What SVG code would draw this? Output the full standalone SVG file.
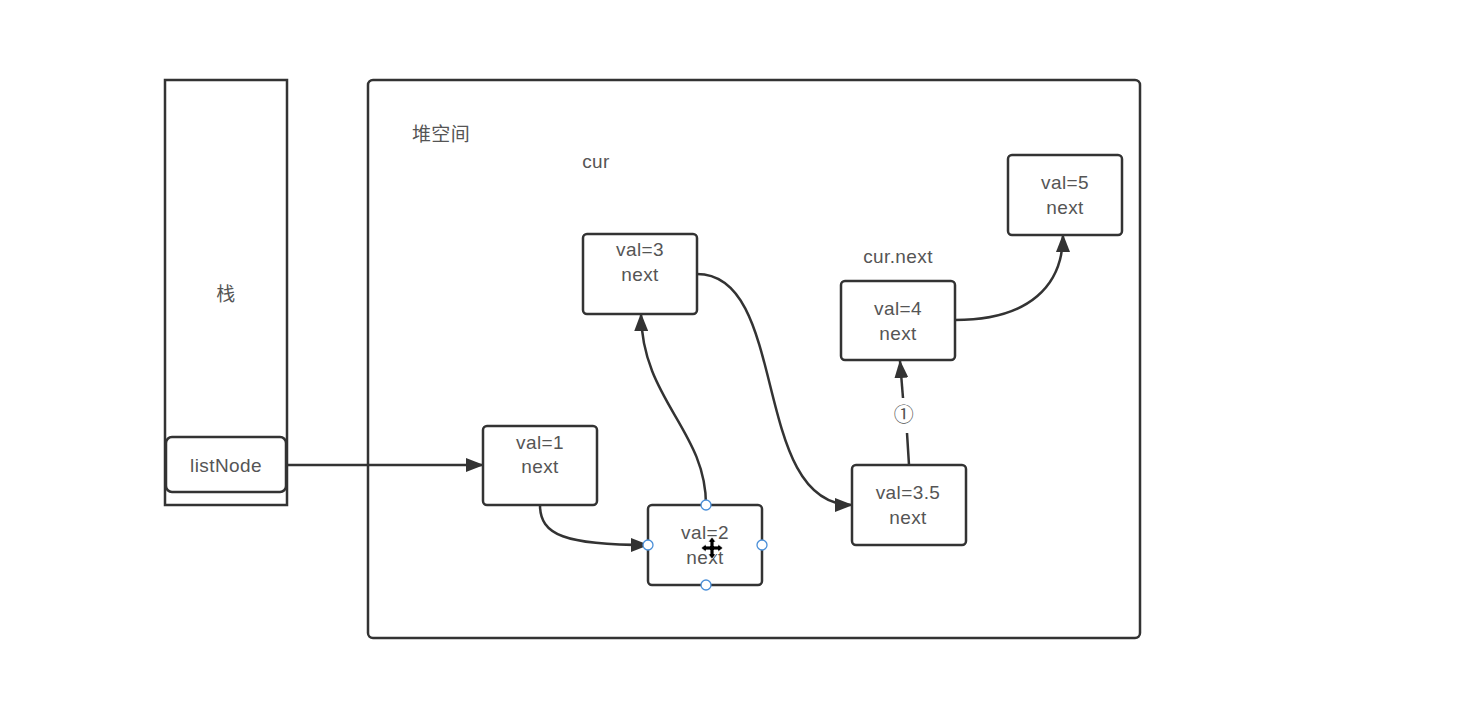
<svg xmlns="http://www.w3.org/2000/svg" width="1464" height="704" viewBox="0 0 1464 704">
<style>
.box{fill:#fff;stroke:#333;stroke-width:2.5}
.t{font-family:"Liberation Sans","Noto Sans CJK SC",sans-serif;font-size:19px;letter-spacing:0.4px;fill:#555;text-anchor:middle}
.c{fill:none;stroke:#333;stroke-width:2.5}
.h{fill:#fff;stroke:#4a8fd8;stroke-width:1.3}
</style>
<defs>
<marker id="a" markerWidth="18" markerHeight="14" refX="17" refY="7" orient="auto" markerUnits="userSpaceOnUse">
<path d="M0,0 L18,7 L0,14 Z" fill="#333"/>
</marker>
</defs>
<rect width="1464" height="704" fill="#fff"/>
<g id="stack">
<rect class="box" x="165" y="80" width="122" height="425"/>
<text class="t" x="226" y="301">栈</text>
</g>
<g id="heap">
<rect class="box" x="368" y="80" width="772" height="558" rx="5"/>
<text class="t" x="441" y="141">堆空间</text>
<text class="t" x="596" y="168">cur</text>
<text class="t" x="898" y="263">cur.next</text>
</g>
<g id="listNode">
<rect class="box" x="166" y="437" width="120" height="55" rx="6"/>
<text class="t" x="226" y="472">listNode</text>
</g>
<g id="connectors">
<path class="c" d="M287,465 L483,465" marker-end="url(#a)"/>
<path class="c" d="M540,505 C540,535 565,545 648,545" marker-end="url(#a)"/>
<path class="c" d="M706,505 C706,430 642,400 641,314" marker-end="url(#a)"/>
<path class="c" d="M697,274 C790,274 750,505 852,505" marker-end="url(#a)"/>
<path class="c" d="M909,465 L907,433"/>
<path class="c" d="M903,398 L900,361" marker-end="url(#a)"/>
<path class="c" d="M955,320 C1030,320 1063,285 1063,235" marker-end="url(#a)"/>
<text class="t" x="904" y="422" style="font-size:20px">①</text>
</g>
<g id="n1">
<rect class="box" x="483" y="426" width="114" height="79" rx="4"/>
<text class="t" x="540" y="449">val=1</text>
<text class="t" x="540" y="473">next</text>
</g>
<g id="n2">
<rect class="box" x="648" y="505" width="114" height="80" rx="4"/>
<text class="t" x="705" y="539">val=2</text>
<text class="t" x="705" y="564">next</text>
<circle class="h" cx="706" cy="505" r="5"/>
<circle class="h" cx="706" cy="585" r="5"/>
<circle class="h" cx="648" cy="545" r="5"/>
<circle class="h" cx="762" cy="545" r="5"/>
<path d="M712,537 L716,542 L714,542 L714,546 L718,546 L718,544 L723,548 L718,552 L718,550 L714,550 L714,554 L716,554 L712,559 L708,554 L710,554 L710,550 L706,550 L706,552 L701,548 L706,544 L706,546 L710,546 L710,542 L708,542 Z" fill="#000" stroke="#fff" stroke-width="0.8"/>
</g>
<g id="n3">
<rect class="box" x="583" y="234" width="114" height="80" rx="4"/>
<text class="t" x="640" y="256">val=3</text>
<text class="t" x="640" y="281">next</text>
</g>
<g id="n35">
<rect class="box" x="852" y="465" width="114" height="80" rx="4"/>
<text class="t" x="908" y="499">val=3.5</text>
<text class="t" x="908" y="524">next</text>
</g>
<g id="n4">
<rect class="box" x="841" y="281" width="114" height="79" rx="4"/>
<text class="t" x="898" y="315">val=4</text>
<text class="t" x="898" y="340">next</text>
</g>
<g id="n5">
<rect class="box" x="1008" y="155" width="114" height="80" rx="4"/>
<text class="t" x="1065" y="189">val=5</text>
<text class="t" x="1065" y="214">next</text>
</g>
</svg>
